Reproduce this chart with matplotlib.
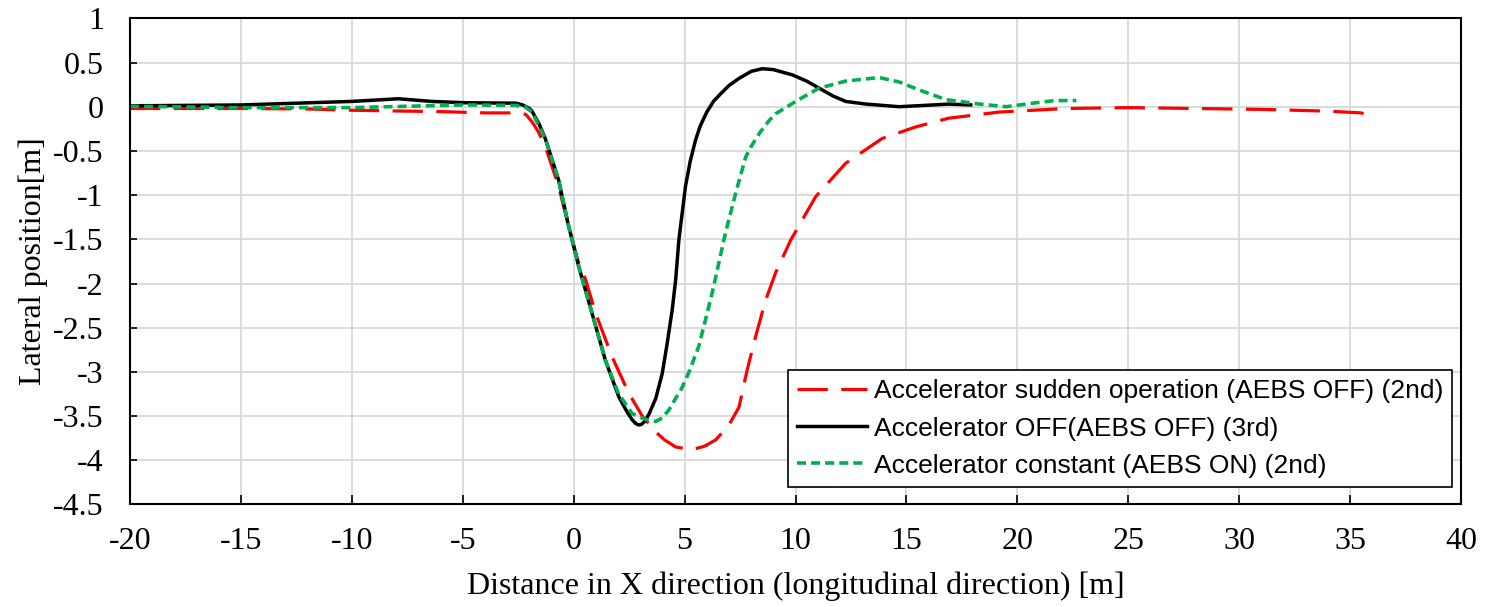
"""
Lateral position vs longitudinal distance, three accelerator/AEBS runs
"""

import numpy as np
import matplotlib
matplotlib.use('Agg')
import matplotlib.pyplot as plt

plt.rcParams['axes.unicode_minus'] = False

# Accelerator sudden operation (AEBS OFF) (2nd)
x_red = [-20, -15, -12, -10, -7.5, -6, -4, -2.35, -2.15, -1.88, -1.6, -1.28, -0.68, -0.2, 0.2,
         0.53, 0.98, 1.73, 2.48, 3.09, 3.7, 4.1, 4.6, 5.34, 5.9, 6.4, 7.0, 7.45, 7.8, 8.2, 8.65,
         9.1, 9.78, 10.9, 12.26, 13.9, 15.4, 16.9, 19.2, 22.2, 25, 28, 31, 34, 35.5, 36.1]
y_red = [-0.02, -0.02, -0.025, -0.04, -0.05, -0.055, -0.07, -0.07, -0.09, -0.17, -0.28, -0.45,
         -0.90, -1.38, -1.75, -1.95, -2.33, -2.83, -3.24, -3.50, -3.68, -3.77, -3.85, -3.88,
         -3.84, -3.77, -3.60, -3.40, -3.0, -2.60, -2.19, -1.88, -1.51, -1.02, -0.64, -0.36,
         -0.23, -0.13, -0.06, -0.02, -0.01, -0.02, -0.03, -0.05, -0.07, -0.12]

# Accelerator OFF(AEBS OFF) (3rd)
x_black = [-20, -15, -10, -7.9, -6.4, -4.9, -2.6, -2.3, -2.0, -1.88, -1.55, -1.28, -0.68,
           -0.23, 0.23, 0.83, 1.43, 2.03, 2.4, 2.63, 2.8, 2.93, 3.05, 3.2, 3.39, 3.7, 3.99,
           4.2, 4.44, 4.6, 4.74, 5.04, 5.25, 5.49, 5.7, 6.0, 6.3, 6.6, 7.0, 7.45, 8.0, 8.5,
           9.0, 9.86, 10.5, 11.06, 11.7, 12.26, 13.17, 14.67, 16.2, 16.9, 17.9]
y_black = [0.01, 0.02, 0.06, 0.09, 0.06, 0.045, 0.04, 0.02, -0.02, -0.05, -0.2, -0.36, -0.83,
           -1.35, -1.81, -2.34, -2.87, -3.28, -3.45, -3.54, -3.585, -3.60, -3.595, -3.56, -3.48,
           -3.3, -3.02, -2.7, -2.30, -1.95, -1.51, -0.90, -0.62, -0.38, -0.22, -0.06, 0.06,
           0.14, 0.24, 0.32, 0.40, 0.43, 0.42, 0.36, 0.29, 0.21, 0.12, 0.06, 0.03, 0.0, 0.02,
           0.03, 0.02]

# Accelerator constant (AEBS ON) (2nd)
x_green = [-20, -15, -10, -7.5, -5, -2.6, -2.2, -1.88, -1.28, -0.68, -0.23, 0.23, 0.83,
           1.43, 2.03, 2.63, 3.07, 3.4, 3.7, 4.0, 4.29, 4.88, 5.2, 5.64, 6.24, 6.84, 7.3,
           7.75, 8.0, 8.4, 8.8, 9.1, 9.5, 10, 11.06, 12.26, 13.77, 14.67, 15.57, 16.78, 18.3,
           19.5, 20.7, 21.7, 22.66]
y_green = [0.005, -0.01, -0.01, 0.005, 0.02, 0.015, 0.0, -0.06, -0.36, -0.83, -1.35, -1.81,
           -2.34, -2.87, -3.25, -3.47, -3.52, -3.55, -3.56, -3.52, -3.43, -3.18, -3.0, -2.71,
           -2.11, -1.43, -0.98, -0.57, -0.45, -0.29, -0.16, -0.08, -0.02, 0.06, 0.21, 0.29,
           0.33, 0.28, 0.19, 0.08, 0.03, 0.0, 0.04, 0.07, 0.07]

labels = ['Accelerator sudden operation (AEBS OFF) (2nd)',
          'Accelerator OFF(AEBS OFF) (3rd)',
          'Accelerator constant (AEBS ON) (2nd)']

serif = ['Liberation Serif', 'DejaVu Serif']
sans = ['Liberation Sans', 'DejaVu Sans']

fig = plt.figure(figsize=(14.86, 6.07), dpi=100)
ax = fig.add_axes([0.0875, 0.1689, 0.8957, 0.8009])

ax.plot(x_red, y_red, color='#FF0000', lw=2.3, dashes=(9.5, 4.2), label=labels[0])
ax.plot(x_black, y_black, color='black', lw=2.5, label=labels[1])
ax.plot(x_green, y_green, color='#00B050', lw=2.6, dashes=(2.5, 1.4), label=labels[2])

ax.set_xlim(-20, 40)
ax.set_ylim(-4.5, 1)
ax.set_xticks(np.arange(-20, 41, 5))
ax.set_yticks(np.arange(-4.5, 1.01, 0.5))
ax.set_yticklabels(['%g' % v for v in np.arange(-4.5, 1.01, 0.5)])
ax.grid(True, color='#d9d9d9', lw=1.3)
ax.set_axisbelow(True)
for s in ax.spines.values():
    s.set_color('black')
    s.set_linewidth(1.5)
ax.tick_params(axis='x', direction='in', length=6.5, width=1.2, pad=16)
ax.tick_params(axis='y', direction='in', length=5, width=1.2, pad=19)
for t in ax.get_xticklabels() + ax.get_yticklabels():
    t.set_family(serif)
    t.set_fontsize(23)

ax.set_xlabel('Distance in X direction (longitudinal direction) [m]', family=serif, fontsize=23)
ax.set_ylabel('Lateral position[m]', family=serif, fontsize=23)
ax.xaxis.set_label_coords(0.5, -0.137)
ax.yaxis.set_label_coords(-0.062, 0.5)

leg = ax.legend(loc='lower right', bbox_to_anchor=(0.9932, 0.0366), prop={'family': sans, 'size': 19},
                frameon=True, fancybox=False, edgecolor='black', framealpha=1,
                handlelength=2.63, handletextpad=0.26, borderpad=0.34, labelspacing=0.5,
                borderaxespad=0)
leg.get_frame().set_linewidth(1.2)

plt.savefig('out.png', dpi=100)
